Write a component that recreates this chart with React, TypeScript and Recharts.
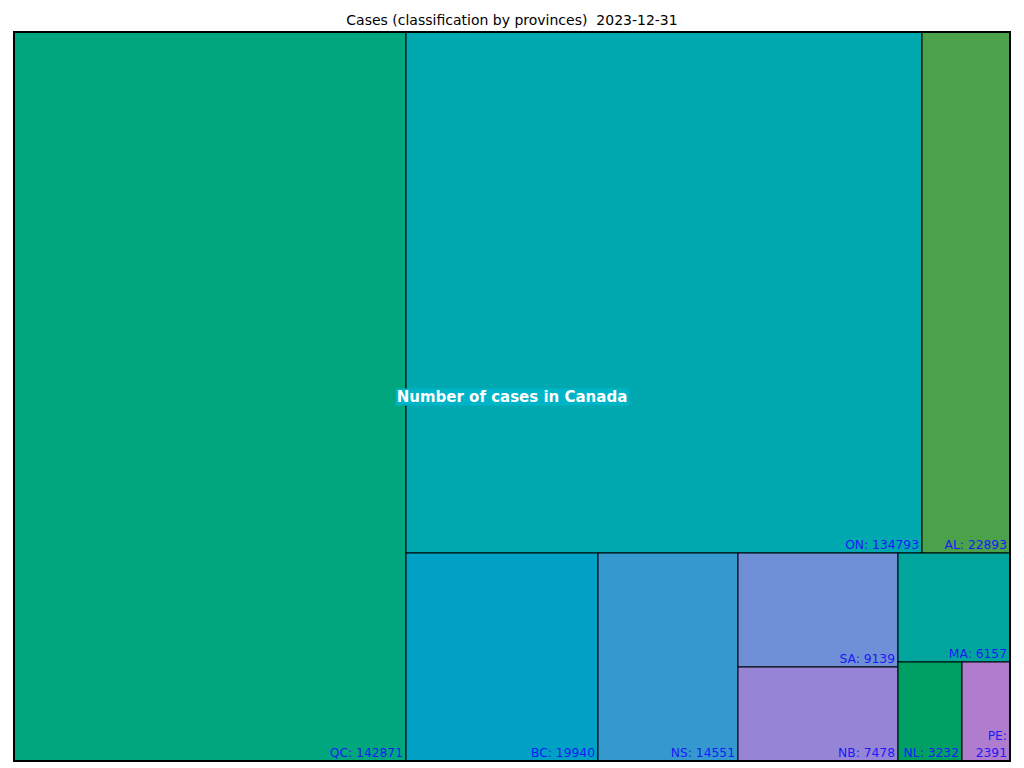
import React from 'react';
import { Treemap } from 'recharts';

// ---- data ----
const provinces = ['QC', 'ON', 'AL', 'BC', 'NS', 'SA', 'NB', 'MA', 'NL', 'PE'];
const cases = [142871, 134793, 22893, 19940, 14551, 9139, 7478, 6157, 3232, 2391];
const cellColors = ['#00A67E', '#00A8B0', '#4BA24B', '#00A1C4', '#3599CF', '#6F8FD6', '#9684D6', '#00A69E', '#00A064', '#B07CCE'];
// grouping of province indices (nesting of the tiles)
const grouping: any[] = [0, [[1, 2], [3, 4, [5, 6], [7, [8, 9]]]]];

const titleText = 'Cases (classification by provinces)  2023-12-31';
const centerLabel = 'Number of cases in Canada';

const buildNode = (g: any): any => {
  if (typeof g === 'number') {
    return { name: provinces[g], value: cases[g], color: cellColors[g], leaf: true };
  }
  return { children: g.map(buildNode) };
};
const treeData = grouping.map(buildNode);

const FONT = '"DejaVu Sans", sans-serif';

const Cell = (props: any) => {
  const { x, y, width, height, leaf, name, value, color } = props;
  if (!leaf) return <g />;
  const label = `${name}: ${value}`;
  const estWidth = label.length * 6.8;
  const rx = x + width - 3;
  const by = y + height - 4;
  const fits = estWidth <= width - 6;
  return (
    <g>
      <rect x={x} y={y} width={width} height={height} fill={color} stroke="#000" strokeWidth={1} />
      {fits ? (
        <text x={rx} y={by} textAnchor="end" fontSize={12.3} fontFamily={FONT} fill="#1a1af5">
          {label}
        </text>
      ) : (
        <text x={rx} y={by} textAnchor="end" fontSize={12.3} fontFamily={FONT} fill="#1a1af5">
          <tspan x={rx} y={by - 17}>{`${name}:`}</tspan>
          <tspan x={rx} y={by}>{`${value}`}</tspan>
        </text>
      )}
    </g>
  );
};

export default function App() {
  return (
    <div style={{ position: 'absolute', left: 0, top: 0, width: 1024, height: 768, background: '#fff' }}>
      <div
        style={{
          position: 'absolute',
          left: 0,
          top: 11,
          width: 1024,
          textAlign: 'center',
          fontFamily: FONT,
          fontSize: 14,
          lineHeight: '18px',
          whiteSpace: 'pre',
          color: '#000',
        }}
      >
        {titleText}
      </div>
      <div style={{ position: 'absolute', left: 14, top: 32, width: 996, height: 729 }}>
        <Treemap
          width={996}
          height={729}
          data={treeData}
          dataKey="value"
          nameKey="name"
          aspectRatio={1}
          isAnimationActive={false}
          content={(p: any) => <Cell {...p} />}
        />
      </div>
      <div
        style={{
          position: 'absolute',
          left: 13,
          top: 31,
          width: 998,
          height: 731,
          border: '2px solid #000',
          boxSizing: 'border-box',
          pointerEvents: 'none',
        }}
      />
      <div
        style={{
          position: 'absolute',
          left: 512,
          top: 397,
          transform: 'translate(-50%, -50%)',
          background: '#00B4C8',
          color: '#fff',
          fontFamily: FONT,
          fontWeight: 'bold',
          fontSize: 15,
          lineHeight: '17px',
          padding: '0 1px',
          whiteSpace: 'nowrap',
        }}
      >
        {centerLabel}
      </div>
    </div>
  );
}
